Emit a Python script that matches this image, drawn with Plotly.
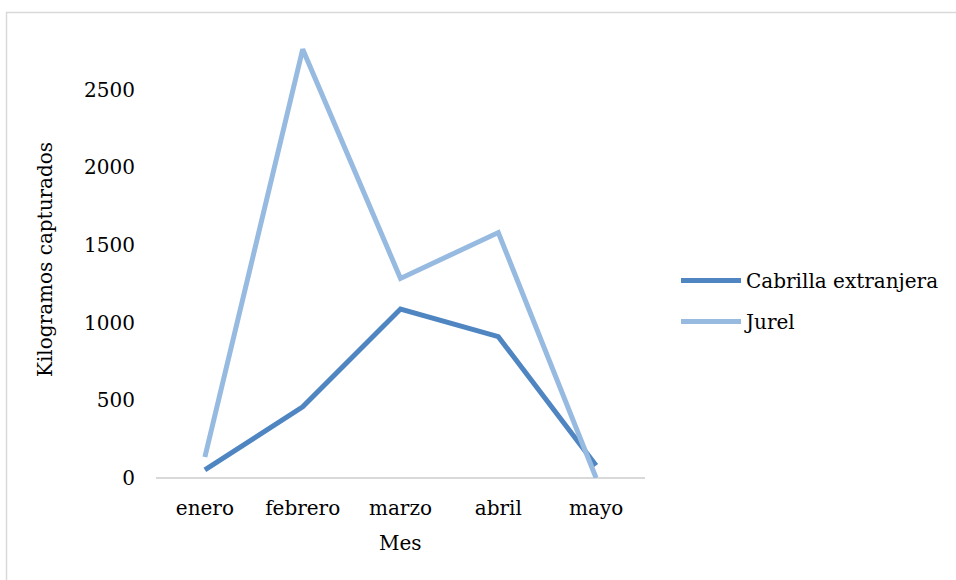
import plotly.graph_objects as go

# Monthly catch (kg) per species
meses = ["enero", "febrero", "marzo", "abril", "mayo"]
cabrilla = [52, 458, 1088, 910, 80]
jurel = [135, 2760, 1285, 1580, 0]
y_ticks = [0, 500, 1000, 1500, 2000, 2500]

FONT = "DejaVu Serif"
FS = 20
W, H = 956, 580
L, R, T, B = 156, 311, 12, 102
pw, ph = W - L - R, H - T - B


def px_x(p):
    return (p - L) / pw


def px_y(p):
    return (H - B - p) / ph


fig = go.Figure()
fig.add_trace(go.Scatter(
    x=meses, y=cabrilla, name="Cabrilla extranjera", mode="lines",
    line=dict(color="#4F86C2", width=5), legendgroup="a",
))
fig.add_trace(go.Scatter(
    x=meses, y=jurel, name="Jurel", mode="lines",
    line=dict(color="#97BAE1", width=5), legendgroup="b",
))

fig.update_layout(
    width=W, height=H,
    margin=dict(l=L, r=R, t=T, b=B, autoexpand=False),
    paper_bgcolor="white", plot_bgcolor="white",
    font=dict(family=FONT, size=FS, color="black"),
    showlegend=True,
    legend=dict(
        x=px_x(676), y=px_y(301), xanchor="left", yanchor="middle",
        bgcolor="rgba(0,0,0,0)", tracegroupgap=12,
        font=dict(family=FONT, size=FS), itemwidth=60,
    ),
    xaxis=dict(
        type="category", range=[-0.5, 4.5],
        showgrid=False, zeroline=False, showline=False, ticks="",
        ticklabelstandoff=16, tickfont=dict(size=FS),
    ),
    yaxis=dict(
        range=[0, 3000], tickvals=y_ticks, showgrid=False,
        zeroline=True, zerolinecolor="#D9D9D9", zerolinewidth=2,
        showline=False, ticks="", ticklabelstandoff=20,
        tickfont=dict(size=FS),
    ),
    annotations=[
        dict(text="Kilogramos capturados", textangle=-90, showarrow=False,
             xref="paper", yref="paper", x=px_x(45), y=px_y(260),
             xanchor="center", yanchor="middle", font=dict(size=FS)),
        dict(text="Mes", showarrow=False, xref="paper", yref="paper",
             x=px_x(400), y=px_y(543), xanchor="center", yanchor="middle",
             font=dict(size=FS)),
    ],
    shapes=[
        dict(type="rect", xref="paper", yref="paper",
             x0=px_x(6.5), x1=px_x(1200), y0=px_y(800), y1=px_y(12.5),
             line=dict(color="#D9D9D9", width=1.5), layer="below"),
    ],
)

fig.write_html("out.html")
